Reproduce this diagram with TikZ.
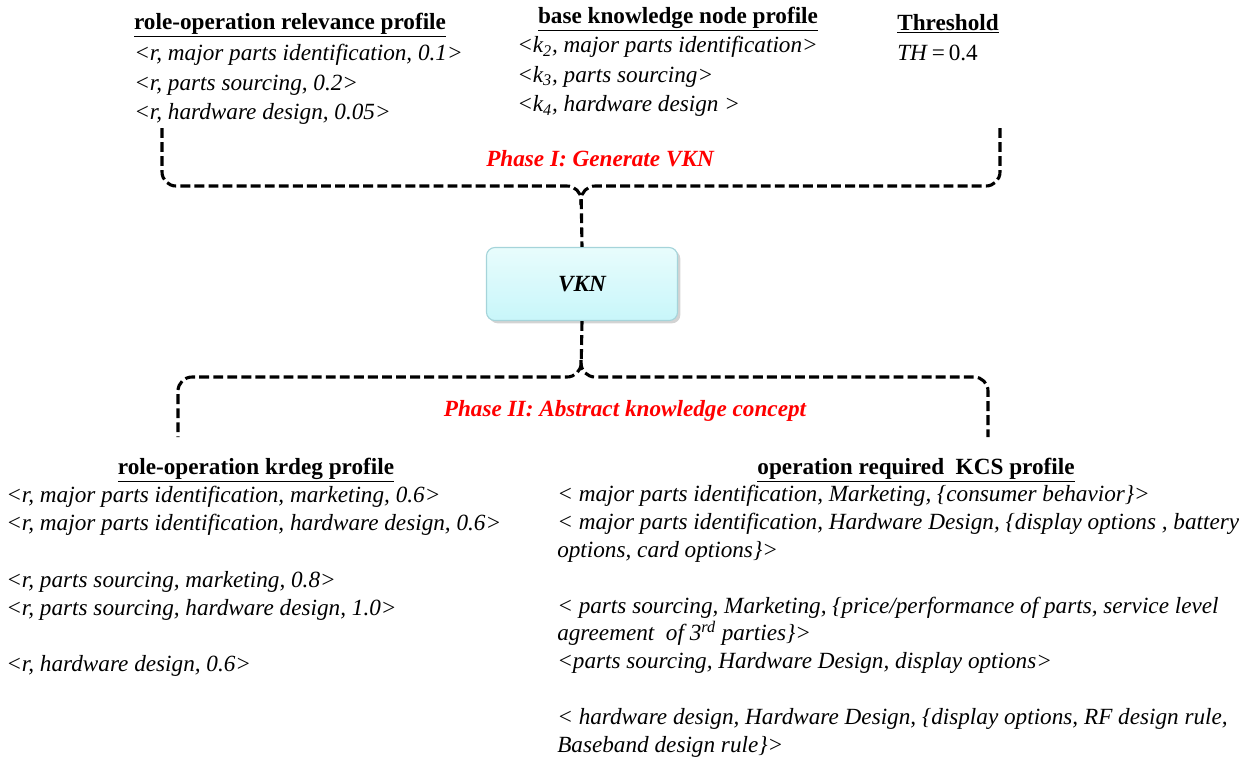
\documentclass[tikz,border=0pt]{standalone}
\usepackage{fontspec}
\setmainfont{Liberation Serif}
\usepackage{tikz}
\usetikzlibrary{shadows}
\definecolor{phasered}{RGB}{255,0,0}
\definecolor{vkntop}{RGB}{232,252,252}
\definecolor{vknbot}{RGB}{200,246,250}
\definecolor{vknline}{RGB}{165,212,218}
\tikzset{
  dashlink/.style={black,line width=2.2pt,dash pattern=on 7pt off 3pt,rounded corners=10pt},
  head/.style={font=\rmfamily\fontsize{16.5}{20}\selectfont\bfseries,inner sep=0pt},
  listing/.style={font=\rmfamily\fontsize{16.5}{20}\selectfont\itshape,align=left,inner sep=0pt,anchor=north west},
  toplisting/.style={listing,font=\rmfamily\fontsize{16.5}{21}\selectfont\itshape},
  phase/.style={font=\rmfamily\fontsize{16.5}{20}\selectfont\bfseries\itshape,text=phasered,inner sep=0pt},
  hub/.style={draw=vknline,line width=0.8pt,rounded corners=6pt,top color=vkntop,bottom color=vknbot,
              minimum width=4.775cm,minimum height=1.825cm,font=\rmfamily\fontsize{16.5}{20}\selectfont\bfseries\itshape,
              drop shadow={shadow xshift=2pt,shadow yshift=-2pt,opacity=0.35,fill=gray}},
}

\begin{document}
\begin{tikzpicture}[x=0.025cm,y=-0.025cm]
  \path[use as bounding box] (0,0) rectangle (1260,759);

  % phase I inputs
  \node[head] (relHead) at (290,25) {\underline{role-operation relevance profile}};
  \node[toplisting] (relList) at (134,44)
    {<r, major parts identification, 0.1>\\
     <r, parts sourcing, 0.2>\\
     <r, hardware design, 0.05>};
  \node[head] (baseHead) at (678,19) {\underline{base knowledge node profile}};
  \node[toplisting] (baseList) at (517,36)
    {<\textit{k}\textsubscript{2}, major parts identification>\\
     <\textit{k}\textsubscript{3}, parts sourcing>\\
     <\textit{k}\textsubscript{4}, hardware design >};
  \node[head,anchor=west] (thHead) at (897,24) {\underline{Threshold}};
  \node[listing,font=\rmfamily\fontsize{16.5}{20}\selectfont] (thVal) at (897,45) {\textit{TH}\,=\,0.4};

  \node[phase] (phaseOne) at (600,159) {Phase I: Generate VKN};
  \node[hub] (vkn) at (582,284) {VKN};

  \coordinate (relFoot) at (162,128);
  \coordinate (thFoot) at (1000,128);
  \draw[dashlink] (relFoot) -- (162,186) -- (581,186) -- (vkn.north);
  \draw[dashlink] (thFoot) -- (1000,186) -- (581,186) -- (581,205);

  % phase II outputs
  \node[phase] (phaseTwo) at (625,411) {Phase II: Abstract knowledge concept};
  \coordinate (krdegTop) at (178,437);
  \coordinate (kcsTop) at (988,437);
  \draw[dashlink] (vkn.south) -- (581,377) -- (178,377) -- (krdegTop);
  \draw[dashlink] (581,360) -- (581,377) -- (988,377) -- (kcsTop);

  \node[head] (krdegHead) at (256,470) {\underline{role-operation krdeg profile}};
  \node[listing] (krdegList) at (6,486)
    {<r, major parts identification, marketing, 0.6>\\
     <r, major parts identification, hardware design, 0.6>\\
     \\
     <r, parts sourcing, marketing, 0.8>\\
     <r, parts sourcing, hardware design, 1.0>\\
     \\
     <r, hardware design, 0.6>};
  \node[head] (kcsHead) at (916,470) {\underline{operation required\ \ KCS profile}};
  \node[listing,font=\rmfamily\fontsize{16.5}{19.8}\selectfont\itshape] (kcsList) at (557,485)
    {< major parts identification, Marketing, \{consumer behavior\}>\\
     < major parts identification, Hardware Design, \{display options , battery\\
     options, card options\}>\\
     \\
     < parts sourcing, Marketing, \{price/performance of parts, service level\\
     agreement\ \ of 3\textsuperscript{rd} parties\}>\\
     <parts sourcing, Hardware Design, display options>\\
     \\
     < hardware design, Hardware Design, \{display options, RF design rule,\\
     Baseband design rule\}>};
\end{tikzpicture}
\end{document}
